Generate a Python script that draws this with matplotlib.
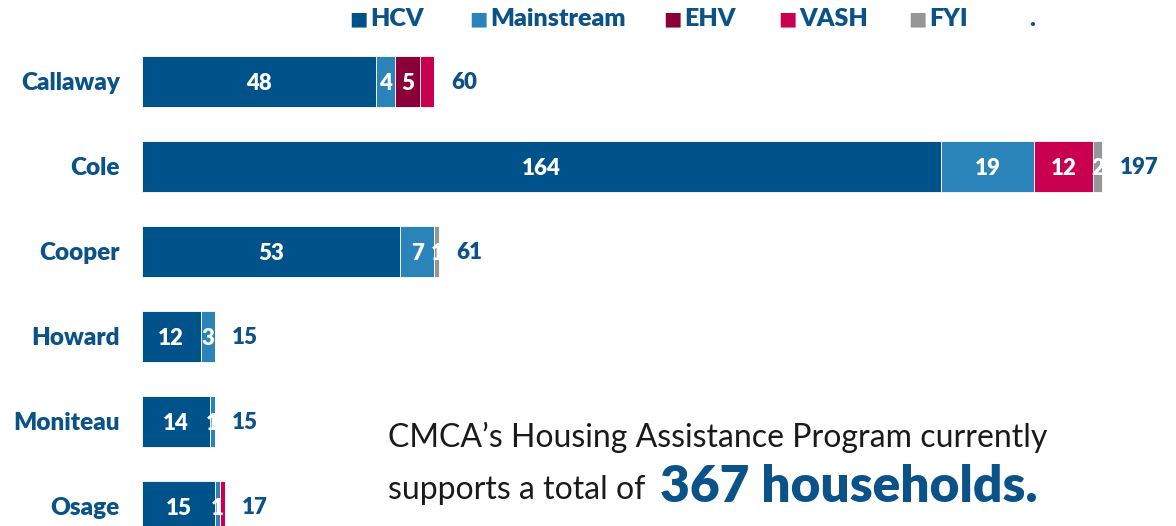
import numpy as np
import matplotlib
matplotlib.use("Agg")
import matplotlib.pyplot as plt

# ---- data ----
counties = ['Callaway', 'Cole', 'Cooper', 'Howard', 'Moniteau', 'Osage']
hcv        = [48, 164, 53, 12, 14, 15]
mainstream = [4, 19, 7, 3, 1, 1]
ehv        = [5, 0, 0, 0, 0, 0]
vash       = [3, 12, 0, 0, 0, 1]
fyi        = [0, 2, 1, 0, 0, 0]
series_names = ['HCV', 'Mainstream', 'EHV', 'VASH', 'FYI']
colors = ['#00528A', '#2A84BA', '#8A0039', '#C8004F', '#969696']
hidden_labels = {('VASH', 'Callaway'), ('VASH', 'Osage')}   # not shown in the original
total_households = 367

BLUE = '#0B5288'
plt.rcParams['font.family'] = ['Lato', 'DejaVu Sans']

fig = plt.figure(figsize=(11.76, 5.26), dpi=100)
ax = fig.add_axes([142/1176, 0, 1034/1176, 1])

vals = [hcv, mainstream, ehv, vash, fyi]
totals = np.sum(vals, axis=0)
y = np.arange(len(counties))
left = np.zeros(len(counties))
for name, v, c in zip(series_names, vals, colors):
    v = np.array(v, dtype=float)
    ax.barh(y, v, left=left, height=0.6, color=c, edgecolor='white', linewidth=0.6)
    for i, val in enumerate(v):
        if val > 0 and (name, counties[i]) not in hidden_labels:
            ax.text(left[i] + val/2, y[i] + 0.03, f'{int(val)}', ha='center', va='center',
                    color='white', fontsize=16, fontweight='heavy')
    left += v

for i, t in enumerate(totals):
    ax.text(t + 3.5, y[i] + 0.02, f'{t}', ha='left', va='center', color=BLUE,
            fontsize=16, fontweight='heavy')

ax.set_xlim(0, 1034/4.875)
ax.set_ylim((526-81)/85, -81/85)
ax.set_yticks(y)
ax.set_yticklabels(counties, fontsize=17.5, fontweight='heavy', color=BLUE)
ax.tick_params(axis='y', length=0, pad=16)
ax.set_xticks([])
for s in ax.spines.values():
    s.set_visible(False)

# legend
leg_items = [(358, 'HCV'), (478, 'Mainstream'), (672, 'EHV'), (787, 'VASH'), (917, 'FYI')]
for (px, name), c in zip(leg_items, colors):
    fig.text(px/1176, 1 - 19/526, '\u25A0', color=c, fontsize=14, ha='center', va='center',
             family='DejaVu Sans')
    fig.text((px + 12)/1176, 1 - 19/526, name, color=BLUE, fontsize=18, fontweight='heavy',
             ha='left', va='center')
fig.text(1032/1176, 1 - 19/526, '.', color=BLUE, fontsize=18, fontweight='heavy',
         ha='center', va='center')

# callout text
fig.text(388/1176, 1 - 437/526, "CMCA\u2019s Housing Assistance Program currently",
         fontsize=23, fontweight='normal', color='#1A1A1A', ha='left', va='center')
fig.text(388/1176, 1 - 490/526, "supports a total of",
         fontsize=23, fontweight='normal', color='#1A1A1A', ha='left', va='center')
fig.text(660/1176, 1 - 487/526, f"{total_households} households.",
         fontsize=37, fontweight='heavy', color=BLUE, ha='left', va='center')

fig.savefig('out.png', dpi=100)
